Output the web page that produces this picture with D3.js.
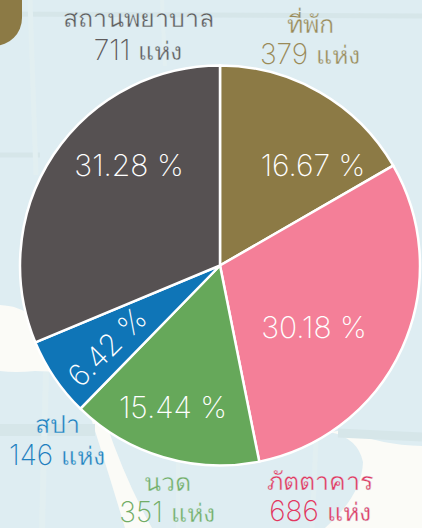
<!DOCTYPE html>
<html>
<head>
<meta charset="utf-8">
<script src="https://cdn.jsdelivr.net/npm/d3@7"></script>
<style>
  html, body { margin: 0; padding: 0; background: #deedf2; overflow: hidden; }
  svg { display: block; }
  text { text-anchor: middle; }
  .pct, .num { font-family: Inter, Lato, sans-serif; font-weight: 200; }
  /* Thai fallback only comes heavy, so thin it with a stroke in the background colour */
  .thai { font-family: "Noto Sans", sans-serif; font-weight: 200; stroke: #deedf2; stroke-width: 0.35px; }
</style>
</head>
<body>
<div class="app"></div>
<script>
'use strict'

var categories = ["ที่พัก", "ภัตตาคาร", "นวด", "สปา", "สถานพยาบาล"];
var counts = [379, 686, 351, 146, 711];
var percents = ["16.67", "30.18", "15.44", "6.42", "31.28"];

var sliceColors = ["#8c7a45", "#f47f98", "#66a85a", "#0f75b7", "#565152"];
var labelColors = ["#9a8a58", "#e2375f", "#72ad66", "#1f80bf", "#5f5b5c"];

// Label centres, baseline of the name and of the count
var labelPos = [[310, 33, 64], [320, 490, 521], [167, 491, 522], [57, 433, 465], [138, 27, 60]];
var percentPos = [[313, 165], [314, 327], [173, 407], [107, 347], [129, 165]];
var percentAngle = [0, 0, 0, -45, 0];

var width = 422;
var height = 528;
var cx = 220;
var cy = 265.5;
var radius = 200;

var svg = d3.select(".app").append("svg")
  .attr("width", width)
  .attr("height", height);

// Map in the background
var bg = svg.append("g").attr("class", "map");
bg.append("path").attr("fill", "#fbfbf7")
  .attr("d", "M0,305 Q10,306 14,307 Q30,312 45,325 L80,372 Q60,372 35,371 Q15,373 0,371 Z");
bg.append("path").attr("fill", "#fbfbf7")
  .attr("d", "M85,400 Q100,445 125,528 L152,528 Q125,480 105,420 Z");
bg.append("path").attr("fill", "#fbfbf7")
  .attr("d", "M330,432 Q358,438 363,462 Q362,495 325,528 L422,528 L422,446 Q380,445 345,430 Z");

[[0, 14, 422, 16, 5], [0, 155, 40, 155, 5], [0, 430, 95, 430, 12], [338, 433, 422, 437, 9]].forEach(function(r) {
  bg.append("line").attr("x1", r[0]).attr("y1", r[1]).attr("x2", r[2]).attr("y2", r[3])
    .attr("stroke", "#d6e6e9").attr("stroke-width", r[4]);
});
[[30, 0, 36, 175, 5], [162, 0, 165, 66, 4], [46, 372, 42, 528, 6], [178, 460, 178, 528, 4], [316, 440, 312, 528, 5]].forEach(function(r) {
  bg.append("line").attr("x1", r[0]).attr("y1", r[1]).attr("x2", r[2]).attr("y2", r[3])
    .attr("stroke", "#e2eff1").attr("stroke-width", r[4]);
});

// Brown tab in the corner
svg.append("rect")
  .attr("x", -40).attr("y", -40)
  .attr("width", 62).attr("height", 86)
  .attr("rx", 28)
  .attr("fill", "#8c7a45");

var pie = d3.pie().sort(null)(counts);
var arc = d3.arc().innerRadius(0).outerRadius(radius);

svg.append("g")
  .attr("transform", "translate(" + cx + "," + cy + ")")
  .selectAll("path")
  .data(pie)
  .enter().append("path")
  .attr("d", arc)
  .attr("fill", function(d, i) { return sliceColors[i]; })
  .attr("stroke", "#fff")
  .attr("stroke-width", 2.5);

// Percent inside the slices
svg.append("g").selectAll("text")
  .data(percents)
  .enter().append("text")
  .attr("class", "pct")
  .attr("transform", function(d, i) {
    return "translate(" + percentPos[i][0] + "," + percentPos[i][1] + ") rotate(" + percentAngle[i] + ")";
  })
  .attr("dy", "0.36em")
  .attr("fill", "#fff")
  .attr("font-size", 30)
  .text(function(d) { return d + " %"; });

// Name and count outside
var labels = svg.append("g").selectAll("g")
  .data(categories)
  .enter().append("g")
  .attr("fill", function(d, i) { return labelColors[i]; });

labels.append("text")
  .attr("class", "thai")
  .attr("x", function(d, i) { return labelPos[i][0]; })
  .attr("y", function(d, i) { return labelPos[i][1]; })
  .attr("font-size", 25)
  .text(function(d) { return d; });

var countText = labels.append("text")
  .attr("x", function(d, i) { return labelPos[i][0]; })
  .attr("y", function(d, i) { return labelPos[i][2]; });

countText.append("tspan")
  .attr("class", "num")
  .attr("font-size", 28)
  .text(function(d, i) { return counts[i] + " "; });

countText.append("tspan")
  .attr("class", "thai")
  .attr("font-size", 25)
  .text("แห่ง");
</script>
</body>
</html>
